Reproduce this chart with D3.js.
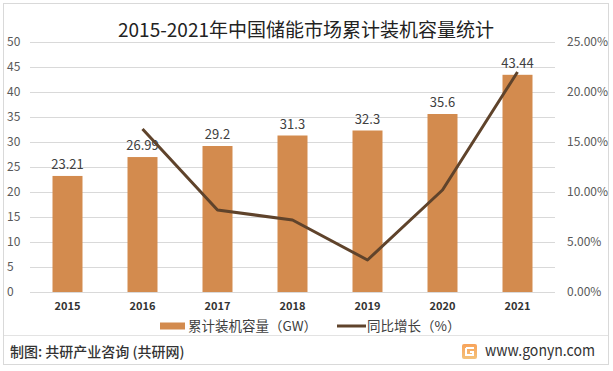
<!DOCTYPE html>
<html><head><meta charset="utf-8">
<script src="https://cdn.jsdelivr.net/npm/d3@7"></script>
<style>body{margin:0;background:#fff}svg{display:block}</style>
</head><body>
<script>
const years = ["2015","2016","2017","2018","2019","2020","2021"];
const capacity = [23.21, 26.99, 29.2, 31.3, 32.3, 35.6, 43.44];
const capacityLabels = ["23.21","26.99","29.2","31.3","32.3","35.6","43.44"];
const growth = [null, 0.163, 0.082, 0.072, 0.032, 0.102, 0.220];
const leftTicks = [0,5,10,15,20,25,30,35,40,45,50];
const rightTicks = [0,0.05,0.10,0.15,0.20,0.25];
const titleText = "2015-2021年中国储能市场累计装机容量统计";
const legendBar = "累计装机容量（GW）";
const legendLine = "同比增长（%）";
const sourceText = "制图: 共研产业咨询 (共研网)";
const siteText = "www.gonyn.com";

const W = 613, H = 371;
const svg = d3.select("body").append("svg").attr("width", W).attr("height", H);
const font = "'Noto Sans CJK SC','Noto Sans',sans-serif";

// frame
svg.append("rect").attr("x",3.5).attr("y",3.5).attr("width",605).attr("height",361)
  .attr("fill","#fff").attr("stroke","#d9d9d9");
svg.append("line").attr("x1",4).attr("x2",608).attr("y1",335.5).attr("y2",335.5).attr("stroke","#e3e3e3");

const x = d3.scaleBand().domain(years).range([30,555]).paddingInner(0.6).paddingOuter(0.3);
const y = d3.scaleLinear().domain([0,50]).range([292,42]);
const y2 = d3.scaleLinear().domain([0,0.25]).range([292,42]);

// gridlines
svg.append("g").selectAll("line").data(leftTicks).join("line")
  .attr("x1",30).attr("x2",555).attr("y1",d=>Math.round(y(d))+0.5).attr("y2",d=>Math.round(y(d))+0.5)
  .attr("stroke","#d9d9d9");

// left axis labels
svg.append("g").selectAll("text").data(leftTicks).join("text")
  .attr("x",7).attr("y",d=>y(d)).attr("dy","0.35em")
  .attr("font-family",font).attr("font-size",12).attr("fill","#595959")
  .text(d=>d);
// right axis labels
svg.append("g").selectAll("text").data(rightTicks).join("text")
  .attr("x",567).attr("y",d=>y2(d)).attr("dy","0.35em")
  .attr("font-family",font).attr("font-size",12).attr("fill","#595959")
  .text(d=>d3.format(".2%")(d));

// title
svg.append("text").attr("x",306).attr("y",30).attr("dy","0.35em").attr("text-anchor","middle")
  .attr("font-family",font).attr("font-size",19).attr("fill","#222").text(titleText);

// bars
svg.append("g").selectAll("rect").data(capacity).join("rect")
  .attr("x",(d,i)=>x(years[i])).attr("width",x.bandwidth())
  .attr("y",d=>y(d)).attr("height",d=>y(0)-y(d)).attr("fill","#d38b4e");

// bar labels
svg.append("g").selectAll("text").data(capacity).join("text")
  .attr("x",(d,i)=>x(years[i])+x.bandwidth()/2).attr("y",d=>y(d)-7)
  .attr("text-anchor","middle").attr("font-family",font).attr("font-size",13).attr("fill","#404040")
  .text((d,i)=>capacityLabels[i]);

// line
const pts = growth.map((g,i)=>({g,i})).filter(p=>p.g!==null);
svg.append("path").datum(pts)
  .attr("d", d3.line().x(p=>x(years[p.i])+x.bandwidth()/2).y(p=>y2(p.g)))
  .attr("fill","none").attr("stroke","#5f432b").attr("stroke-width",3).attr("stroke-linejoin","round");

// year labels
svg.append("g").selectAll("text").data(years).join("text")
  .attr("x",d=>x(d)+x.bandwidth()/2).attr("y",306).attr("dy","0.35em").attr("text-anchor","middle")
  .attr("font-family",font).attr("font-size",11).attr("font-weight","bold").attr("fill","#333").text(d=>d);

// legend
svg.append("rect").attr("x",160).attr("y",322.5).attr("width",25).attr("height",7).attr("fill","#d38b4e");
svg.append("text").attr("x",188).attr("y",326).attr("dy","0.35em").attr("font-family",font)
  .attr("font-size",13.5).attr("fill","#404040").text(legendBar);
svg.append("line").attr("x1",337).attr("x2",366).attr("y1",326).attr("y2",326)
  .attr("stroke","#5f432b").attr("stroke-width",3);
svg.append("text").attr("x",367).attr("y",326).attr("dy","0.35em").attr("font-family",font)
  .attr("font-size",13.5).attr("fill","#404040").text(legendLine);

// footer
svg.append("text").attr("x",10).attr("y",352).attr("dy","0.35em").attr("font-family",font)
  .attr("font-size",14).attr("font-weight",500).attr("fill","#333").text(sourceText);
const grad = svg.append("defs").append("linearGradient").attr("id","lg").attr("x1",0).attr("y1",0).attr("x2",0).attr("y2",1);
grad.append("stop").attr("offset",0).attr("stop-color","#f8a35a");
grad.append("stop").attr("offset",1).attr("stop-color","#f4c27a");
svg.append("rect").attr("x",462).attr("y",344).attr("width",15).attr("height",15).attr("rx",2).attr("fill","url(#lg)");
svg.append("path").attr("d","M466 348 H474 M466 348 V355 H473 V352 H470").attr("fill","none")
  .attr("stroke","#fff").attr("stroke-width",2);
svg.append("text").attr("x",485).attr("y",351).attr("dy","0.35em").attr("font-family",font)
  .attr("font-size",15).attr("textLength",110).attr("lengthAdjust","spacingAndGlyphs")
  .attr("fill","#333").text(siteText);
</script>
</body></html>
